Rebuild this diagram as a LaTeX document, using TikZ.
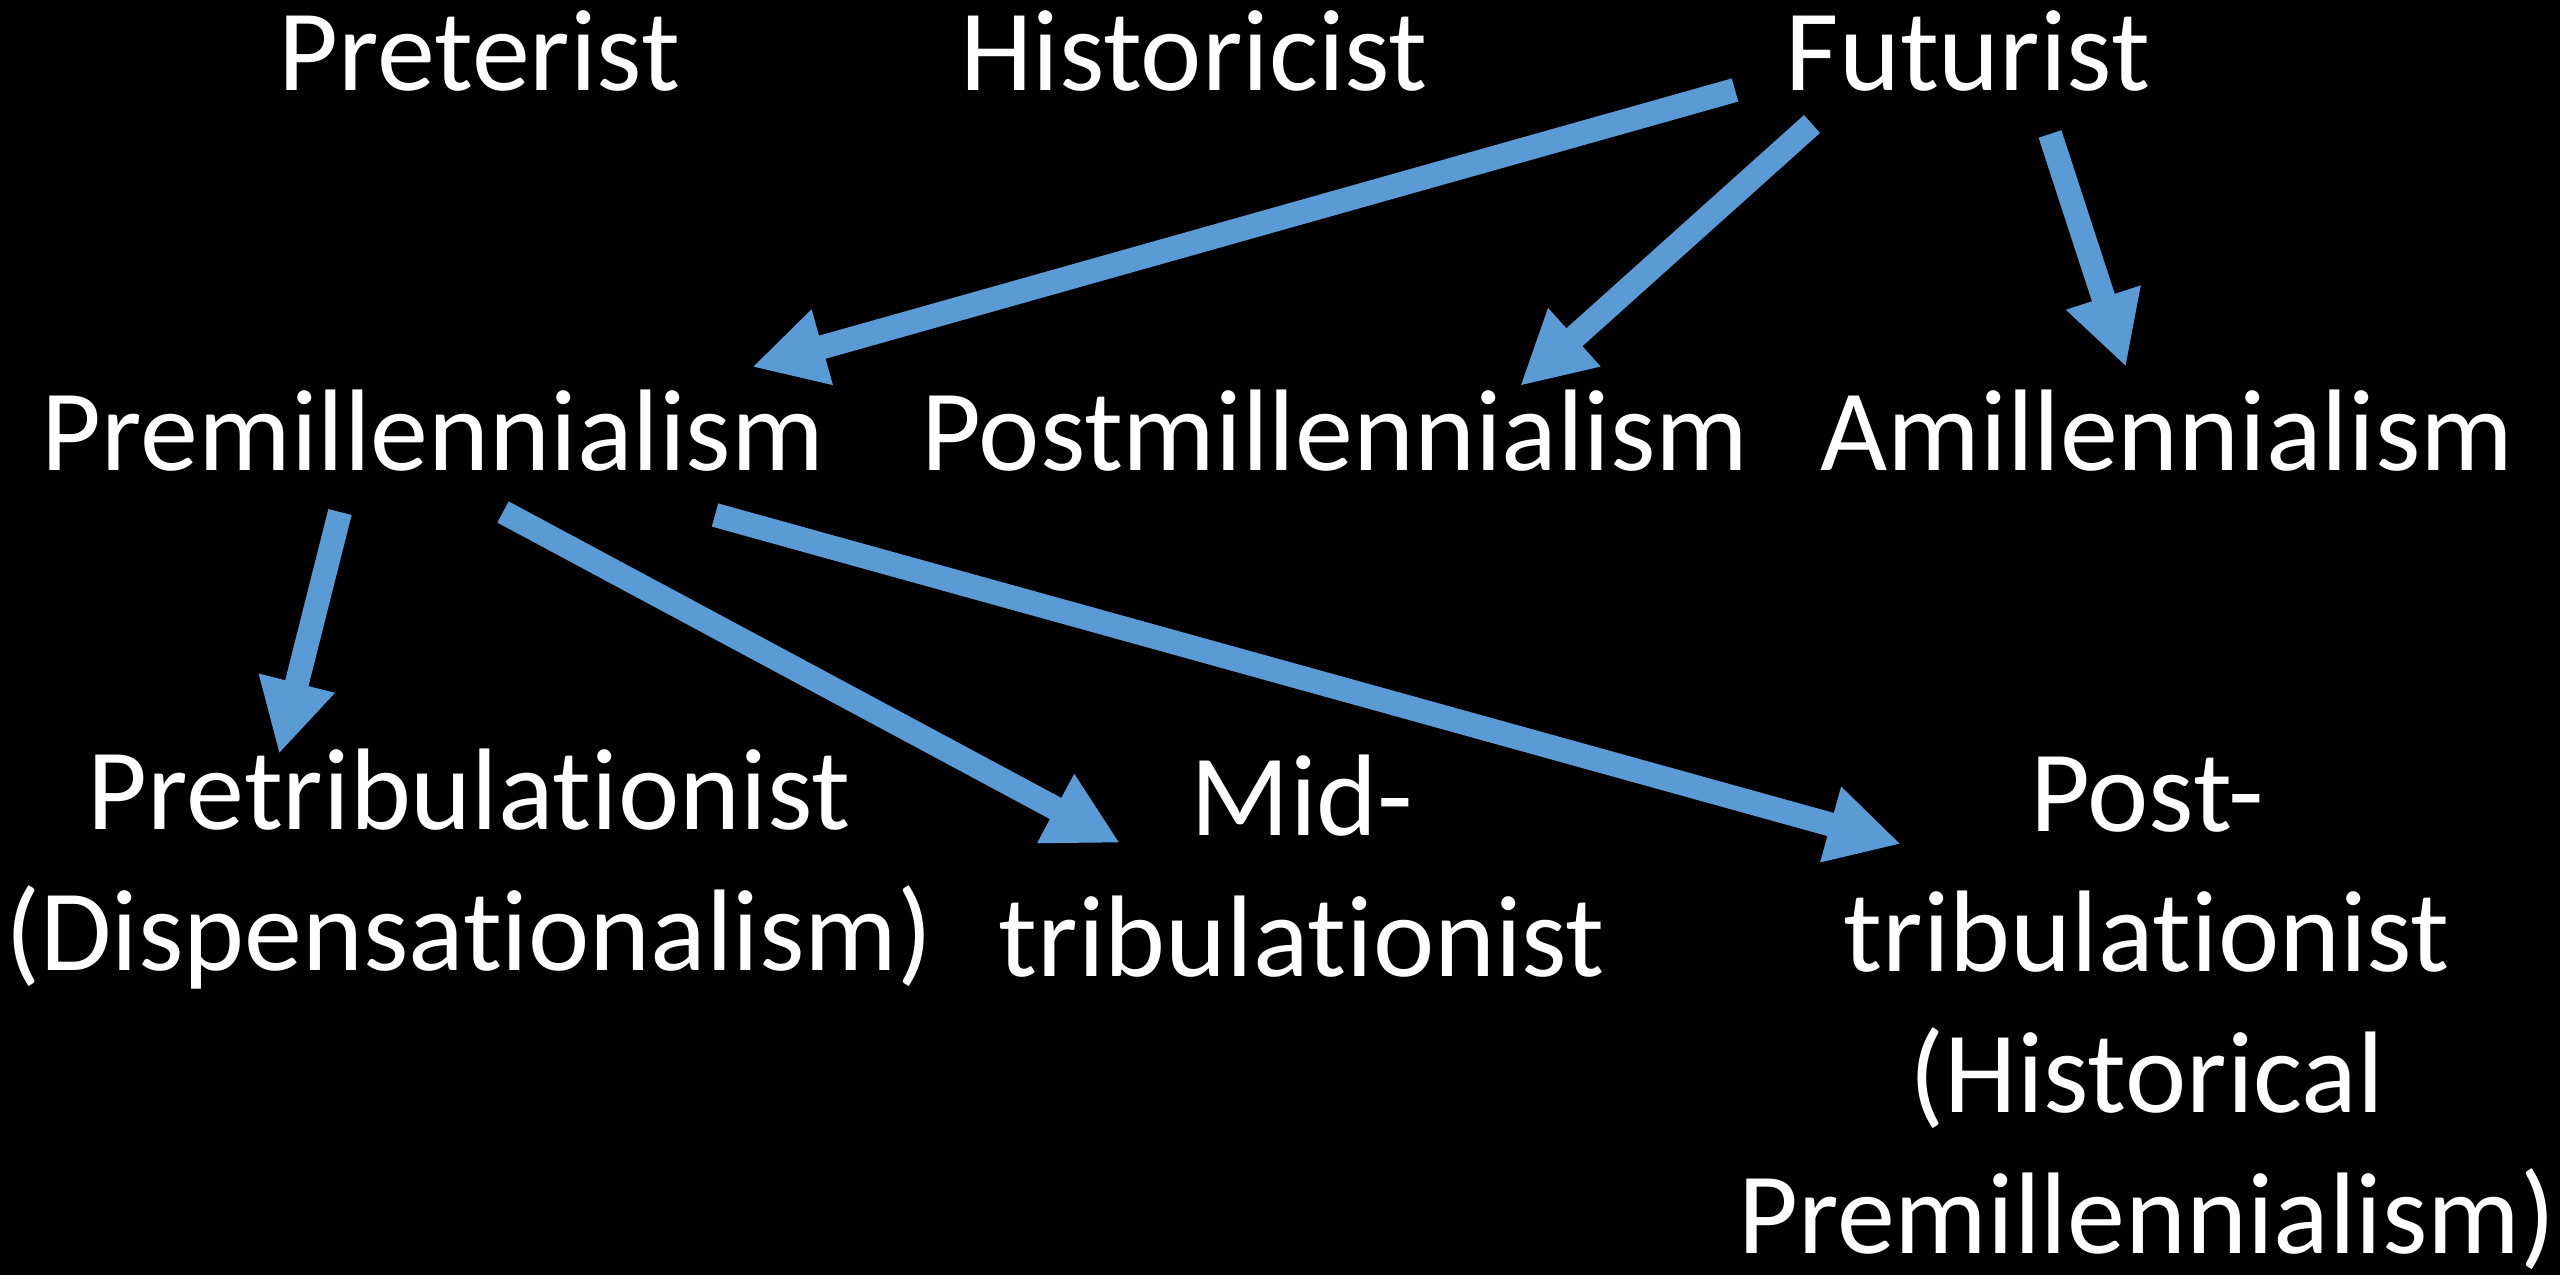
\documentclass[tikz,border=0pt]{standalone}
\usepackage{fontspec}
\setmainfont{Carlito}[Ligatures=NoCommon]
\usetikzlibrary{arrows.meta}
\definecolor{arrowblue}{HTML}{5B9BD5}
\begin{document}
\begin{tikzpicture}[x=0.01cm,y=-0.01cm,
  lbl/.style={text=white,anchor=base,align=center,inner sep=0pt,
    font=\fontsize{33}{40}\selectfont},
  arr/.style={draw=arrowblue,line width=0.24cm,
    -{Triangle[width=0.73cm,length=0.73cm]}}]
\fill[black] (0,0) rectangle (2560,1275);
\useasboundingbox (0,0) rectangle (2560,1275);
% labels (base anchor = baseline of the last line)
\node[lbl] (pret) at (479,90) {Preterist};
\node[lbl] (hist) at (1194,90) {Historicist};
\node[lbl] (fut) at (1968,90) {Futurist};
\node[lbl] (premil) at (433,470) {Premillennialism};
\node[lbl] (postmil) at (1335,470) {Postmillennialism};
\node[lbl] (amil) at (2167,470) {Amillennialism};
\node[lbl] (pretrib) at (469,970) {Pretribulationist\\(Dispensationalism)};
\node[lbl] (midtrib) at (1302,976) {Mid-\\tribulationist};
\node[lbl] (posttrib) at (2147,1253) {Post-\\tribulationist\\(Historical\\Premillennialism)};
% connector end points
\coordinate (a1s) at (1735,90);   \coordinate (a1e) at (752,367);
\coordinate (a2s) at (1812,124);  \coordinate (a2e) at (1520,386);
\coordinate (a3s) at (2050,134);  \coordinate (a3e) at (2126,367);
\coordinate (a4s) at (340,512);   \coordinate (a4e) at (279,754);
\coordinate (a5s) at (503,512);   \coordinate (a5e) at (1120,843);
\coordinate (a6s) at (715,515);   \coordinate (a6e) at (1901,844);
% connectors
\draw[arr] (a1s) -- (a1e);
\draw[arr] (a2s) -- (a2e);
\draw[arr] (a3s) -- (a3e);
\draw[arr] (a4s) -- (a4e);
\draw[arr] (a5s) -- (a5e);
\draw[arr] (a6s) -- (a6e);
\end{tikzpicture}
\end{document}
